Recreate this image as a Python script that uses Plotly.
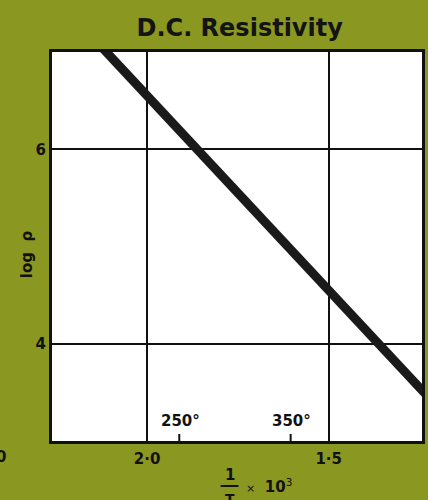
import plotly.graph_objects as go

# data
inv_T = [2.14, 1.19]          # 1/T x 10^3
log_rho = [7.11, 3.31]        # log rho
x_ticks = [2.0, 1.5]
x_tick_labels = ["2·0", "1·5"]
y_ticks = [4, 6]
y_tick_labels = ["4", "6"]
temps_C = [250, 350]
temp_labels = ["250°", "350°"]

olive = "rgb(138,152,34)"
font_b = "DejaVu Sans"
W, H = 428, 500
ML, MR, MT, MB = 52, 3, 52, 59

fig = go.Figure()
fig.add_trace(go.Scatter(x=inv_T, y=log_rho, mode="lines",
                         line=dict(color="#1a1a1a", width=9),
                         hoverinfo="skip", showlegend=False))

temp_x = [1000.0 / (t + 273.15) for t in temps_C]
for tx, lab in zip(temp_x, temp_labels):
    fig.add_shape(type="line", xref="x", yref="paper", x0=tx, x1=tx, y0=0, y1=0.018,
                  line=dict(color="#111", width=2))
    fig.add_annotation(x=tx, y=0, xref="x", yref="paper", text="<b>%s</b>" % lab,
                       showarrow=False, yanchor="bottom", yshift=9, xshift=1,
                       font=dict(family=font_b, size=15, color="#111"))

fig.update_layout(
    width=W, height=H,
    margin=dict(l=ML, r=MR, t=MT, b=MB),
    paper_bgcolor=olive, plot_bgcolor="white",
    title=dict(text="<b>D.C. Resistivity</b>", x=0.56, xanchor="center", y=0.944, yanchor="middle",
               font=dict(family=font_b, size=24, color="#141414")),
    xaxis=dict(range=[2.262, 1.243], tickvals=x_ticks, ticktext=["<b>%s</b>" % t for t in x_tick_labels],
               showgrid=True, gridcolor="#111", gridwidth=2, zeroline=False,
               showline=True, mirror=True, linecolor="#111", linewidth=3,
               ticks="", ticklabelstandoff=2,
               tickfont=dict(family=font_b, size=15, color="#111")),
    yaxis=dict(range=[3.0, 7.0], tickvals=y_ticks, ticktext=["<b>%s</b>" % t for t in y_tick_labels],
               showgrid=True, gridcolor="#111", gridwidth=2, zeroline=False,
               showline=True, mirror=True, linecolor="#111", linewidth=3,
               ticks="", ticklabelstandoff=0,
               tickfont=dict(family=font_b, size=15, color="#111")),
)

pw, ph = W - ML - MR, H - MT - MB
def px(xp):
    return (xp - ML) / pw
def py(yp):
    return (H - MB - yp) / ph

def note(x, y, text, size, xanchor="center", yanchor="middle", angle=0):
    fig.add_annotation(x=px(x), y=py(y), xref="paper", yref="paper", text=text,
                       xanchor=xanchor, yanchor=yanchor, textangle=angle, showarrow=False,
                       font=dict(family=font_b, size=size, color="#111"))

# y-axis title
note(27, 254, "<b>log  ρ</b>", 15, angle=-90)
# x-axis title as fraction 1/T x 10^3
note(231, 475, "<b>1</b>", 15)
fig.add_shape(type="line", xref="paper", yref="paper", x0=px(222), x1=px(240), y0=py(486), y1=py(486),
              line=dict(color="#111", width=2))
note(231, 499, "<b>T</b>", 14)
note(246, 486, "<span style='font-size:11px'>×</span>  <b>10</b><sup>3</sup>", 15, xanchor="left")
# partially visible leftmost tick label
note(8, 457, "<b>0</b>", 15, xanchor="right")

fig.write_html("out.html", config={"displayModeBar": False},
               post_script="document.body.style.margin='0';document.body.style.background='%s';" % olive)
